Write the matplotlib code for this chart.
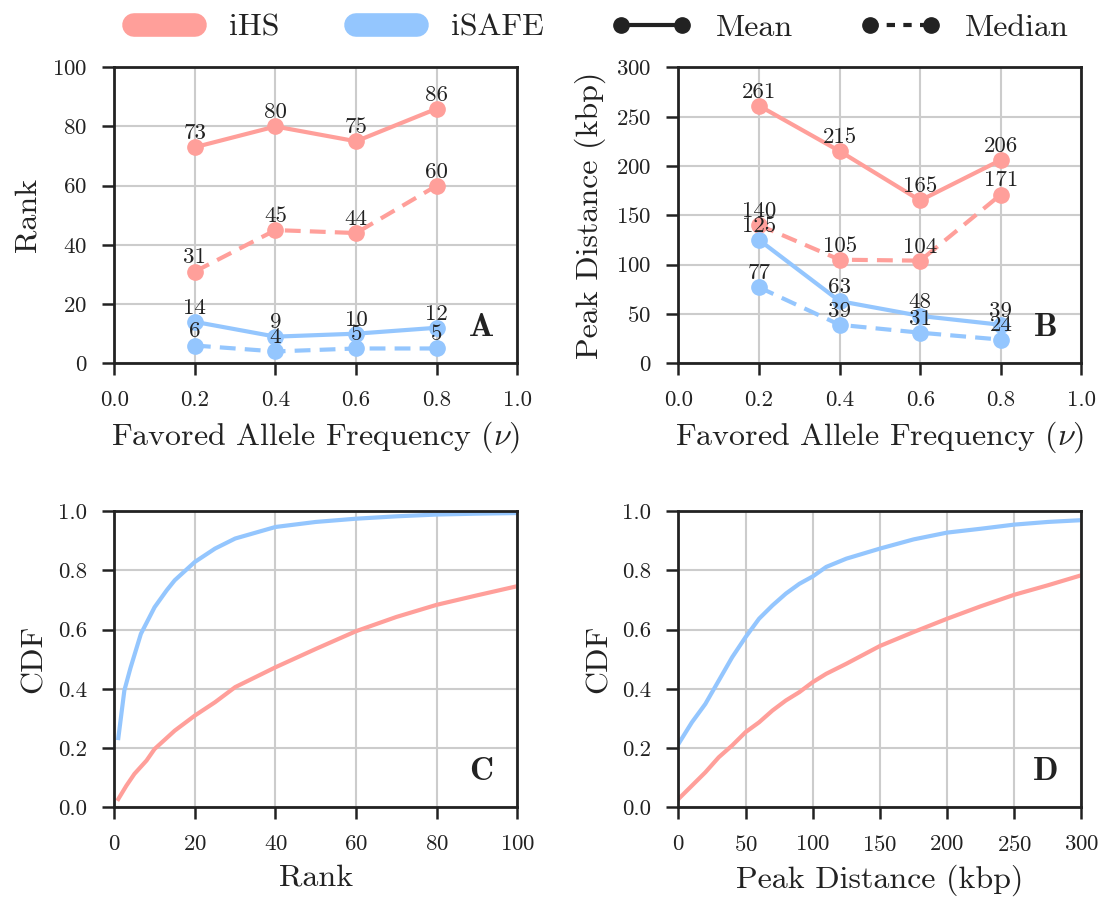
import numpy as np
import matplotlib
matplotlib.use('Agg')
import matplotlib.pyplot as plt
from matplotlib.lines import Line2D

plt.rcParams['font.family'] = 'cmr10'
plt.rcParams['mathtext.fontset'] = 'cm'
plt.rcParams['axes.unicode_minus'] = False
plt.rcParams['axes.formatter.use_mathtext'] = True

ihs_color = '#ff9f9a'
isafe_color = '#94c6fe'
ink = '#222222'

# mean / median summaries by favored allele frequency
freqs = [0.2, 0.4, 0.6, 0.8]
rank_ihs_mean = [73, 80, 75, 86]
rank_ihs_median = [31, 45, 44, 60]
rank_isafe_mean = [14, 9, 10, 12]
rank_isafe_median = [6, 4, 5, 5]
dist_ihs_mean = [261, 215, 165, 206]
dist_ihs_median = [140, 105, 104, 171]
dist_isafe_mean = [125, 63, 48, 39]
dist_isafe_median = [77, 39, 31, 24]

# CDF of rank
rank_x = [1, 2.5, 4, 6.6, 10, 13, 15, 20, 25, 30, 40, 50, 60, 70, 80, 90, 100]
rank_cdf_isafe = [0.234, 0.395, 0.47, 0.586, 0.676, 0.733, 0.767, 0.829, 0.874, 0.908,
                  0.947, 0.964, 0.975, 0.983, 0.989, 0.992, 0.994]
rank_x2 = [1, 3, 5, 8, 10, 15, 20, 25, 30, 40, 50, 60, 70, 80, 90, 100]
rank_cdf_ihs = [0.028, 0.073, 0.113, 0.158, 0.197, 0.259, 0.310, 0.355, 0.406, 0.473,
                0.535, 0.595, 0.643, 0.684, 0.716, 0.747]

# CDF of peak distance
dist_x = [0, 10, 20, 30, 40, 50, 60, 70, 80, 90, 100, 110, 125, 150, 175, 200, 225, 250, 275, 300]
dist_cdf_isafe = [0.214, 0.287, 0.349, 0.428, 0.507, 0.575, 0.637, 0.682, 0.722, 0.755,
                  0.780, 0.812, 0.840, 0.874, 0.905, 0.928, 0.941, 0.955, 0.964, 0.970]
dist_cdf_ihs = [0.028, 0.073, 0.118, 0.169, 0.209, 0.254, 0.287, 0.327, 0.361, 0.389,
                0.423, 0.451, 0.485, 0.545, 0.592, 0.637, 0.679, 0.718, 0.750, 0.784]

fig, axes = plt.subplots(2, 2, figsize=(10.99, 8.97), dpi=100)
plt.subplots_adjust(left=0.104, right=0.984, top=0.925, bottom=0.1, wspace=0.40, hspace=0.5)

lw = 3
ms = 11
dash = (3.8, 2.2)
tick_fs = 16.5
label_fs = 23


def style_ax(ax):
    ax.grid(True, color='#cccccc', linewidth=1.5)
    ax.set_axisbelow(True)
    for s in ax.spines.values():
        s.set_linewidth(2)
        s.set_color(ink)
    ax.tick_params(direction='out', length=8.6, width=1.8, color=ink,
                   labelsize=tick_fs, pad=11, labelcolor=ink)


def corner_letter(ax, letter):
    ax.text(0.91, 0.12, r'$\mathbf{%s}$' % letter, transform=ax.transAxes,
            ha='center', va='center', fontsize=24, color=ink)


def summary_panel(ax, series, ylim, ylabel, letter):
    for vals, color, ls in series:
        line, = ax.plot(freqs, vals, color=color, lw=lw, marker='o', ms=ms,
                        linestyle=ls, clip_on=False)
        if ls == '--':
            line.set_dashes(dash)
        for x, v in zip(freqs, vals):
            ax.annotate(str(v), (x, v), xytext=(0, 3), textcoords='offset points',
                        ha='center', va='bottom', fontsize=tick_fs, color=ink)
    ax.set_xlim(0, 1)
    ax.set_ylim(*ylim)
    ax.set_xticks(np.arange(0, 1.01, 0.2))
    ax.set_xticklabels(['%.1f' % t for t in np.arange(0, 1.01, 0.2)])
    ax.set_xlabel(r'Favored Allele Frequency ($\nu$)', fontsize=label_fs, color=ink, labelpad=7)
    ax.set_ylabel(ylabel, fontsize=label_fs, color=ink, labelpad=7)
    corner_letter(ax, letter)
    style_ax(ax)


summary_panel(axes[0, 0],
              [(rank_ihs_mean, ihs_color, '-'), (rank_ihs_median, ihs_color, '--'),
               (rank_isafe_mean, isafe_color, '-'), (rank_isafe_median, isafe_color, '--')],
              (0, 100), 'Rank', 'A')
axes[0, 0].set_yticks(range(0, 101, 20))

summary_panel(axes[0, 1],
              [(dist_ihs_mean, ihs_color, '-'), (dist_ihs_median, ihs_color, '--'),
               (dist_isafe_mean, isafe_color, '-'), (dist_isafe_median, isafe_color, '--')],
              (0, 300), 'Peak Distance (kbp)', 'B')
axes[0, 1].set_yticks(range(0, 301, 50))

ax = axes[1, 0]
ax.plot(rank_x, rank_cdf_isafe, color=isafe_color, lw=lw)
ax.plot(rank_x2, rank_cdf_ihs, color=ihs_color, lw=lw)
ax.set_xlim(0, 100)
ax.set_ylim(0, 1)
ax.set_xticks(range(0, 101, 20))
ax.set_yticks(np.arange(0, 1.01, 0.2))
ax.set_yticklabels(['%.1f' % t for t in np.arange(0, 1.01, 0.2)])
ax.set_xlabel('Rank', fontsize=label_fs, color=ink, labelpad=7)
ax.set_ylabel('CDF', fontsize=label_fs, color=ink, labelpad=7)
corner_letter(ax, 'C')
style_ax(ax)

ax = axes[1, 1]
ax.plot(dist_x, dist_cdf_isafe, color=isafe_color, lw=lw)
ax.plot(dist_x, dist_cdf_ihs, color=ihs_color, lw=lw)
ax.set_xlim(0, 300)
ax.set_ylim(0, 1)
ax.set_xticks(range(0, 301, 50))
ax.set_yticks(np.arange(0, 1.01, 0.2))
ax.set_yticklabels(['%.1f' % t for t in np.arange(0, 1.01, 0.2)])
ax.set_xlabel('Peak Distance (kbp)', fontsize=label_fs, color=ink, labelpad=7)
ax.set_ylabel('CDF', fontsize=label_fs, color=ink, labelpad=7)
corner_letter(ax, 'D')
style_ax(ax)

# shared legend across the top
handles = [
    Line2D([], [], color=ihs_color, lw=17, solid_capstyle='round'),
    Line2D([], [], color=isafe_color, lw=17, solid_capstyle='round'),
    Line2D([], [], color=ink, lw=lw, marker='o', ms=ms),
    Line2D([], [], color=ink, lw=lw, marker='o', ms=ms, linestyle='--', dashes=(2.0, 2.0)),
]
fig.legend(handles, ['iHS', 'iSAFE', 'Mean', 'Median'], loc='center',
           bbox_to_anchor=(0.543, 0.969), ncol=4, frameon=False, fontsize=label_fs,
           numpoints=2, handlelength=2.5, columnspacing=2.1, handletextpad=0.78,
           labelcolor=ink)

plt.savefig('out.png', dpi=100)
